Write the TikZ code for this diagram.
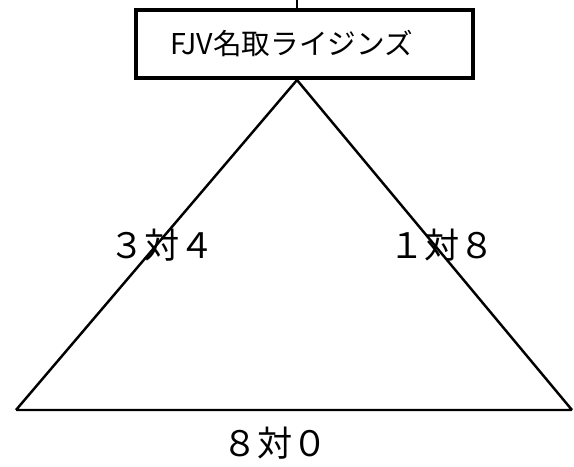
\documentclass[tikz,border=0pt]{standalone}
\usepackage{fontspec}
\newfontfamily\jpfont{Noto Sans CJK JP}
\usetikzlibrary{positioning}

\begin{document}
\begin{tikzpicture}[x=0.02cm,y=-0.02cm,
    score/.style={font=\jpfont\fontsize{20}{24}\selectfont, inner sep=0pt}]
\useasboundingbox (0,0) rectangle (574,466);
\node[draw, line width=2.8pt, minimum height=1.36cm, text width=5.38cm, inner xsep=0.68cm,
    align=left, font=\jpfont\fontsize{16.3}{20}\selectfont] (team) at (304.5,44) {FJV名取ライジンズ};
\coordinate (top) at (297,0);
\coordinate (apex) at (297,80);
\coordinate (left) at (16,410);
\coordinate (right) at (572,410);
\draw[line width=1.4pt] (top) -- (top |- team.north);
\draw[line width=1.4pt] (apex) -- (left)
    (apex) -- (right)
    (left) -- (right);
\node[score] (ab) at (162,245) {３対４};
\node[score] (ac) at (442,245) {１対８};
\node[score] (bc) at (275,443) {８対０};
\end{tikzpicture}
\end{document}
